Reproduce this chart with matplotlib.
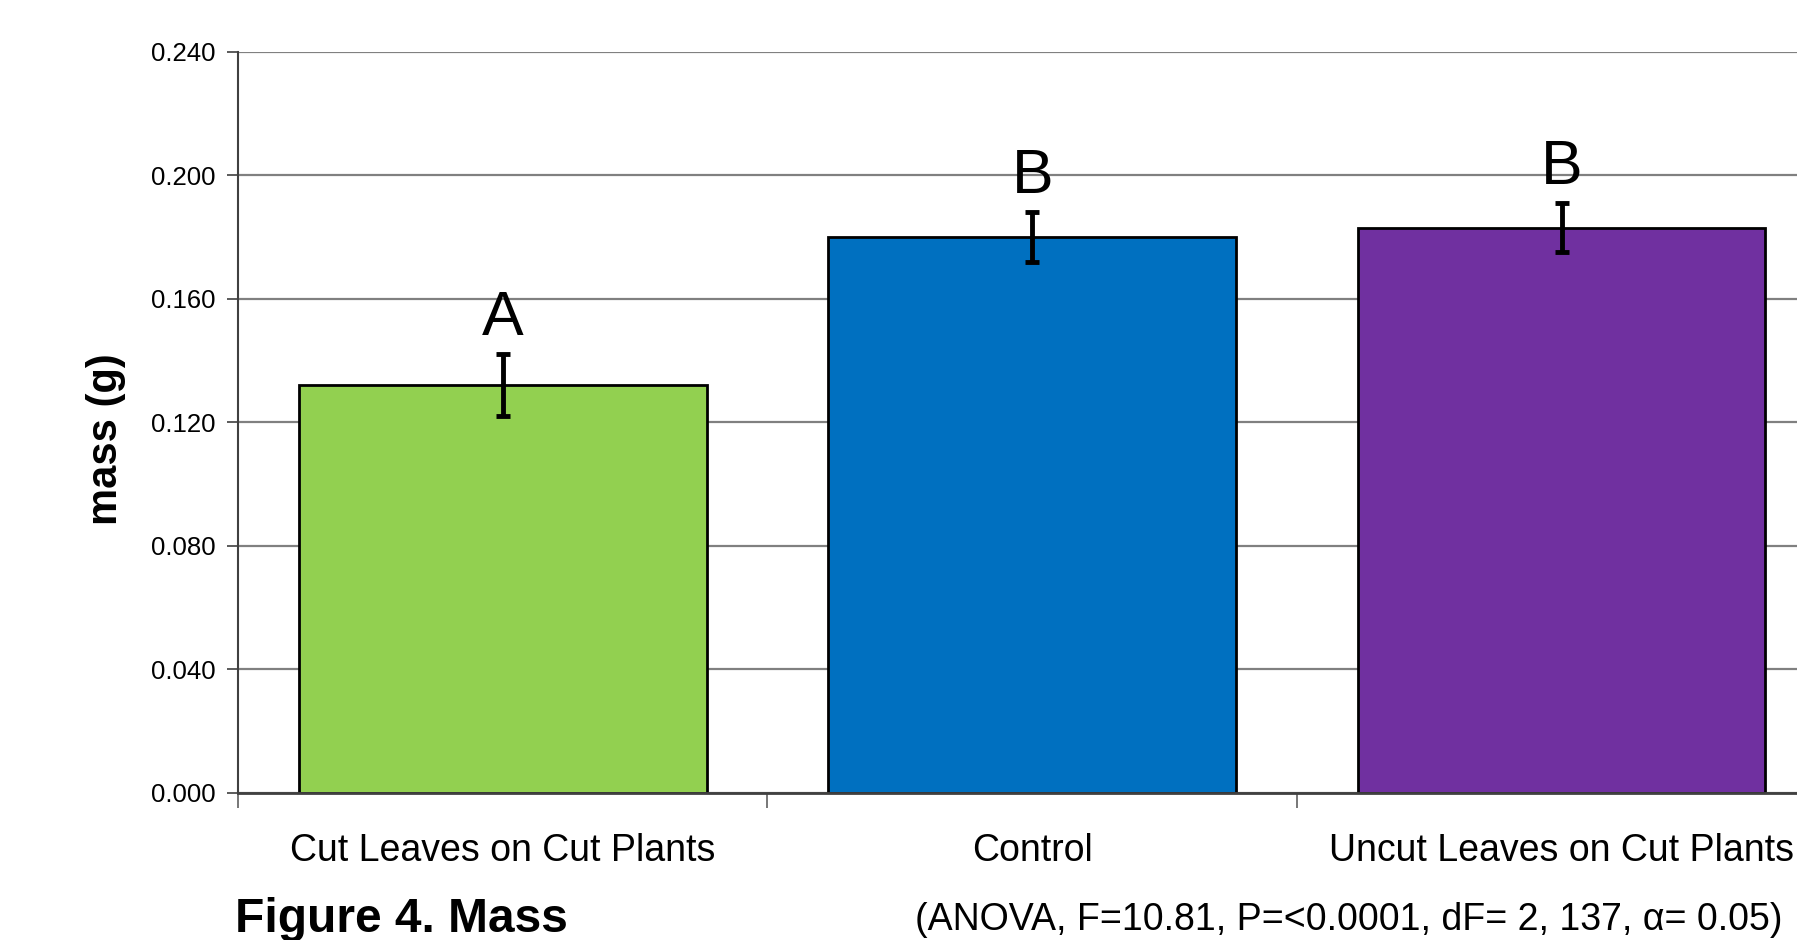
"""
Bar chart of mean mass per treatment with error bars and group letters.
"""

import numpy as np
import matplotlib
matplotlib.use('Agg')
import matplotlib.pyplot as plt

plt.rcParams['font.family'] = ['Liberation Sans', 'DejaVu Sans']

categories = ['Cut Leaves on Cut Plants', 'Control', 'Uncut Leaves on Cut Plants']
mass_mean = [0.132, 0.180, 0.183]
mass_err = [0.010, 0.008, 0.008]
group_letters = ['A', 'B', 'B']
bar_colors = ['#92D050', '#0070C0', '#7030A0']
yticks = [0.000, 0.040, 0.080, 0.120, 0.160, 0.200, 0.240]

fig = plt.figure(figsize=(17.97, 9.40), dpi=100)
# axes runs a little past the right edge, as in the original (cropped) figure
ax = fig.add_axes([0.1325, 0.1564, 0.8838, 0.7887])

xpos = np.arange(len(categories)) + 0.5
plt.bar(xpos, mass_mean, width=0.77, color=bar_colors, edgecolor='black',
        linewidth=2, zorder=2)
plt.errorbar(xpos, mass_mean, yerr=mass_err, fmt='none', ecolor='black',
             elinewidth=3.5, capsize=5, capthick=3.5, zorder=3)
for x, m, e, letter in zip(xpos, mass_mean, mass_err, group_letters):
    plt.text(x, m + e + 0.0062, letter, ha='center', va='baseline', fontsize=45)

plt.xlim(0, len(categories))
plt.ylim(0, 0.24)
plt.yticks(yticks, [f'{v:.3f}' for v in yticks], fontsize=18.5)
ax.set_xticks(np.arange(len(categories) + 1))
ax.set_xticklabels([])
ax.set_xticks(xpos, minor=True)
ax.set_xticklabels(categories, minor=True, fontsize=27)
ax.tick_params(axis='x', which='minor', length=0, pad=29)
ax.tick_params(axis='x', which='major', length=11, width=1.2, color='#606060')
ax.tick_params(axis='y', length=8, width=1.2, color='#404040', pad=8)
plt.grid(axis='y', color='#808080', lw=1.6, zorder=0)
ax.set_axisbelow(True)
for side in ['top', 'right']:
    ax.spines[side].set_visible(False)
ax.spines['left'].set_color('#404040')
ax.spines['left'].set_linewidth(1.5)
ax.spines['bottom'].set_color('#404040')
ax.spines['bottom'].set_linewidth(2)

plt.ylabel('mass (g)', fontsize=30, fontweight='bold')
ax.yaxis.set_label_coords(-0.0705, 0.4775)

fig.text(0.131, 0.008, 'Figure 4. Mass', fontsize=34.5, fontweight='bold',
         ha='left', va='baseline')
fig.text(0.7507, 0.0106, '(ANOVA, F=10.81, P=<0.0001, dF= 2, 137, \u03b1= 0.05)',
         fontsize=27, ha='center', va='baseline')

plt.savefig('out.png', dpi=100)
